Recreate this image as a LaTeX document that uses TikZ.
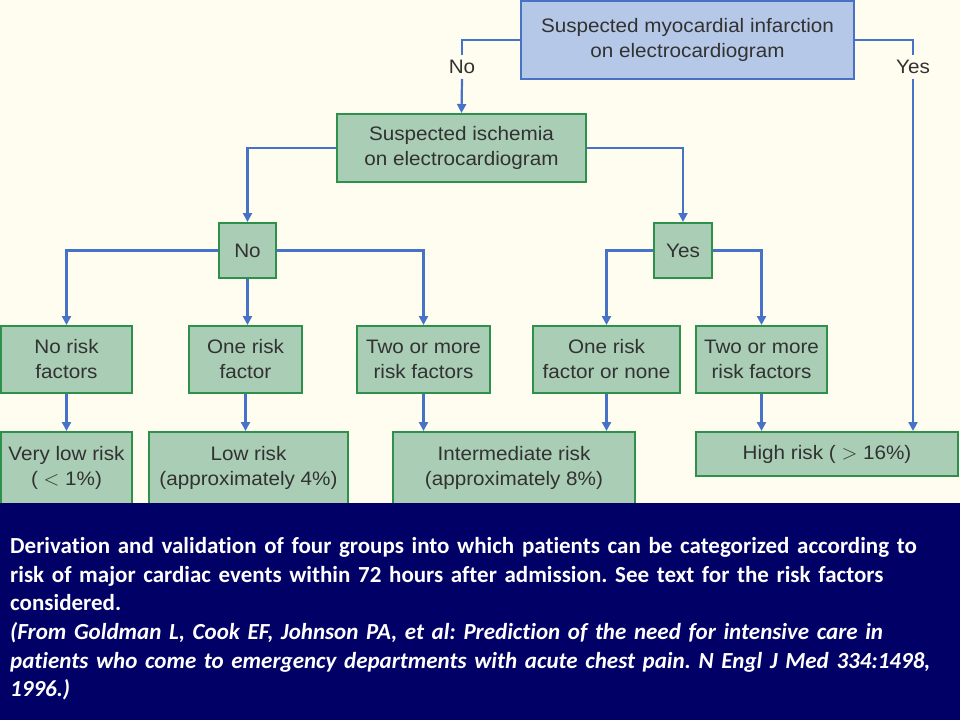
\documentclass[tikz,border=0pt]{standalone}
\usepackage{fontspec}
\setmainfont{Liberation Sans}
\newfontfamily\boxfont[FakeStretch=1.06]{Liberation Sans}
\newfontfamily\capfont[Ligatures=NoCommon]{Carlito}
\usetikzlibrary{arrows.meta}
\definecolor{paper}{RGB}{255,253,240}
\definecolor{miblue}{RGB}{182,200,232}
\definecolor{miedge}{RGB}{70,115,195}
\definecolor{boxgreen}{RGB}{170,205,182}
\definecolor{boxedge}{RGB}{45,145,75}
\definecolor{linkblue}{RGB}{70,115,200}
\definecolor{ink}{RGB}{50,50,50}
\definecolor{navy}{RGB}{0,0,102}

\begin{document}
\begin{tikzpicture}[x=1pt,y=-1pt,
  font=\boxfont\fontsize{19.5}{25}\selectfont, text=ink,
  box/.style={draw=boxedge,fill=boxgreen,line width=2pt,align=center,inner sep=0pt},
  mibox/.style={box,draw=miedge,fill=miblue},
  link/.style={draw=linkblue,line width=2.2pt,-{Triangle[width=9pt,length=9pt]}},
  plain/.style={draw=linkblue,line width=2.2pt},
  lbl/.style={inner sep=5pt}]
  \useasboundingbox (0,0) rectangle (960,720);
  \fill[paper] (0,0) rectangle (960,720);

  % top question
  \node[mibox,minimum width=333pt,minimum height=78pt] (mi) at (687.5,40)
    {Suspected myocardial infarction\\on electrocardiogram};
  \node[lbl] (nolbl) at (462,67) {No};
  \node[lbl] (yeslbl) at (913,67) {Yes};
  \node[box,minimum width=249pt,minimum height=68pt] (isch) at (461.5,148)
    {Suspected ischemia\\on electrocardiogram};

  % answers
  \node[box,minimum width=57pt,minimum height=55pt] (no) at (247.5,250.5) {No};
  \node[box,minimum width=58pt,minimum height=55pt] (yes) at (683,250.5) {Yes};

  % risk factor row
  \node[box,minimum width=131pt,minimum height=67pt] (norisk) at (66.5,359.5) {No risk\\factors};
  \node[box,minimum width=113pt,minimum height=67pt] (onerisk) at (245.5,359.5) {One risk\\factor};
  \node[box,minimum width=133pt,minimum height=67pt] (twoleft) at (423.5,359.5) {Two or more\\risk factors};
  \node[box,minimum width=147pt,minimum height=67pt] (onenone) at (606.5,359.5) {One risk\\factor or none};
  \node[box,minimum width=131pt,minimum height=67pt] (tworight) at (761.5,359.5) {Two or more\\risk factors};

  % outcome row
  \node[box,minimum width=131pt,minimum height=72pt] (verylow) at (66.5,468) {Very low risk\\( $<$ 1\%)};
  \node[box,minimum width=199pt,minimum height=72pt] (low) at (248.5,468) {Low risk\\(approximately 4\%)};
  \node[box,minimum width=242pt,minimum height=72pt] (inter) at (514,468) {Intermediate risk\\(approximately 8\%)};
  \node[box,minimum width=262pt,minimum height=44pt] (high) at (827,454) {High risk ( $>$ 16\%)};

  % connectors
  \draw[plain] (mi.west) -| (nolbl.north);
  \draw[link] (nolbl.south) -- (isch.north);
  \draw[plain] (mi.east) -| (yeslbl.north);
  \draw[link] (yeslbl.south) -- (yeslbl.south |- high.north);
  \draw[link] (isch.west) -| (no.north);
  \draw[link] (isch.east) -| (yes.north);
  \draw[link] (no.west) -| (norisk.north);
  \draw[link] (no.south) -- (no.south |- onerisk.north);
  \draw[link] (no.east) -| (twoleft.north);
  \draw[link] (yes.west) -| (onenone.north);
  \draw[link] (yes.east) -| (tworight.north);
  \draw[link] (norisk.south) -- (verylow.north);
  \draw[link] (onerisk.south) -- (onerisk.south |- low.north);
  \draw[link] (twoleft.south) -- (twoleft.south |- inter.north);
  \draw[link] (onenone.south) -- (onenone.south |- inter.north);
  \draw[link] (tworight.south) -- (tworight.south |- high.north);

  % caption band
  \fill[navy] (0,503) rectangle (960,720);
  \node[anchor=north west,inner sep=0pt,text=white,text width=945pt,align=left,
    font=\capfont\bfseries\fontsize{23}{28.7}\selectfont\frenchspacing] (caption) at (10,537)
    {Derivation and validation of four groups into which patients can be categorized according to\\
     risk of major cardiac events within 72 hours after admission. See text for the risk factors\\
     considered.\\
     {\itshape (From Goldman L, Cook EF, Johnson PA, et al: Prediction of the need for intensive care in\\
     patients who come to emergency departments with acute chest pain. N Engl J Med 334:1498,\\
     1996.)}};
\end{tikzpicture}
\end{document}
